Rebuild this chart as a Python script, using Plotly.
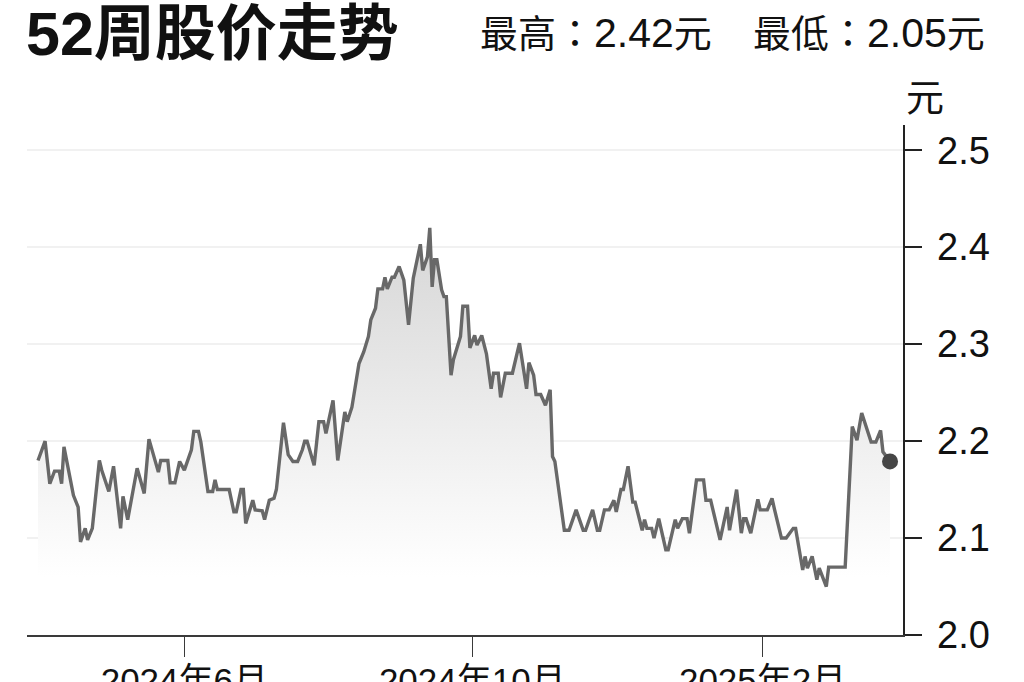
import plotly.graph_objects as go

# ---------------- data ----------------
dates = [
    "2024-03-31", "2024-04-03", "2024-04-05", "2024-04-07", "2024-04-09", "2024-04-10",
    "2024-04-11", "2024-04-14", "2024-04-15", "2024-04-17", "2024-04-18", "2024-04-20",
    "2024-04-21", "2024-04-23", "2024-04-26", "2024-04-27", "2024-04-30", "2024-05-02",
    "2024-05-05", "2024-05-06", "2024-05-08", "2024-05-12", "2024-05-15", "2024-05-17",
    "2024-05-21", "2024-05-22", "2024-05-25", "2024-05-26", "2024-05-28", "2024-05-30",
    "2024-06-01", "2024-06-04", "2024-06-05", "2024-06-07", "2024-06-08", "2024-06-11",
    "2024-06-13", "2024-06-14", "2024-06-15", "2024-06-20", "2024-06-22", "2024-06-23",
    "2024-06-25", "2024-06-26", "2024-06-27", "2024-06-30", "2024-07-01", "2024-07-04",
    "2024-07-05", "2024-07-07", "2024-07-09", "2024-07-10", "2024-07-13", "2024-07-15",
    "2024-07-17", "2024-07-19", "2024-07-21", "2024-07-22", "2024-07-23", "2024-07-26",
    "2024-07-28", "2024-07-30", "2024-07-31", "2024-08-03", "2024-08-05", "2024-08-08",
    "2024-08-09", "2024-08-11", "2024-08-14", "2024-08-16", "2024-08-18", "2024-08-19",
    "2024-08-21", "2024-08-22", "2024-08-24", "2024-08-25", "2024-08-26", "2024-08-28",
    "2024-08-29", "2024-08-31", "2024-09-02", "2024-09-04", "2024-09-06", "2024-09-09",
    "2024-09-10", "2024-09-12", "2024-09-13", "2024-09-14", "2024-09-15", "2024-09-16",
    "2024-09-18", "2024-09-19", "2024-09-20", "2024-09-22", "2024-09-23", "2024-09-26",
    "2024-09-27", "2024-09-29", "2024-09-30", "2024-10-02", "2024-10-03", "2024-10-05",
    "2024-10-07", "2024-10-09", "2024-10-10", "2024-10-12", "2024-10-13", "2024-10-15",
    "2024-10-18", "2024-10-21", "2024-10-22", "2024-10-24", "2024-10-25", "2024-10-27",
    "2024-10-28", "2024-10-30", "2024-11-01", "2024-11-03", "2024-11-04", "2024-11-05",
    "2024-11-09", "2024-11-11", "2024-11-14", "2024-11-17", "2024-11-18", "2024-11-21",
    "2024-11-23", "2024-11-24", "2024-11-26", "2024-11-28", "2024-11-30", "2024-12-01",
    "2024-12-03", "2024-12-04", "2024-12-06", "2024-12-08", "2024-12-09", "2024-12-12",
    "2024-12-13", "2024-12-14", "2024-12-16", "2024-12-17", "2024-12-19", "2024-12-22",
    "2024-12-23", "2024-12-26", "2024-12-27", "2024-12-29", "2024-12-31", "2025-01-01",
    "2025-01-04", "2025-01-07", "2025-01-08", "2025-01-10", "2025-01-14", "2025-01-17",
    "2025-01-18", "2025-01-21", "2025-01-23", "2025-01-24", "2025-01-25", "2025-01-27",
    "2025-01-30", "2025-01-31", "2025-02-03", "2025-02-05", "2025-02-06", "2025-02-09",
    "2025-02-11", "2025-02-14", "2025-02-15", "2025-02-18", "2025-02-19", "2025-02-20",
    "2025-02-22", "2025-02-24", "2025-02-25", "2025-02-28", "2025-03-01", "2025-03-08",
    "2025-03-11", "2025-03-13", "2025-03-15", "2025-03-19", "2025-03-21", "2025-03-23",
    "2025-03-24", "2025-03-27",
]
prices = [
    2.180, 2.200, 2.156, 2.169, 2.169, 2.156,
    2.194, 2.156, 2.144, 2.132, 2.096, 2.110,
    2.098, 2.110, 2.180, 2.170, 2.148, 2.174,
    2.110, 2.143, 2.119, 2.172, 2.146, 2.202,
    2.168, 2.180, 2.180, 2.157, 2.157, 2.179,
    2.170, 2.191, 2.210, 2.210, 2.199, 2.148,
    2.148, 2.160, 2.150, 2.150, 2.127, 2.127,
    2.150, 2.150, 2.115, 2.139, 2.129, 2.128,
    2.119, 2.139, 2.141, 2.150, 2.219, 2.186,
    2.179, 2.179, 2.191, 2.200, 2.200, 2.175,
    2.220, 2.220, 2.208, 2.242, 2.180, 2.230,
    2.220, 2.235, 2.280, 2.292, 2.308, 2.325,
    2.337, 2.357, 2.357, 2.369, 2.357, 2.369,
    2.369, 2.380, 2.366, 2.320, 2.368, 2.403,
    2.376, 2.390, 2.420, 2.359, 2.387, 2.387,
    2.356, 2.349, 2.349, 2.268, 2.284, 2.308,
    2.339, 2.339, 2.296, 2.309, 2.299, 2.309,
    2.290, 2.254, 2.270, 2.270, 2.245, 2.270,
    2.270, 2.301, 2.287, 2.254, 2.281, 2.268,
    2.248, 2.248, 2.237, 2.253, 2.184, 2.179,
    2.108, 2.108, 2.129, 2.108, 2.108, 2.129,
    2.108, 2.108, 2.129, 2.129, 2.139, 2.127,
    2.150, 2.150, 2.174, 2.137, 2.137, 2.108,
    2.119, 2.110, 2.110, 2.100, 2.120, 2.088,
    2.088, 2.119, 2.110, 2.120, 2.120, 2.105,
    2.160, 2.160, 2.139, 2.139, 2.098, 2.132,
    2.108, 2.150, 2.105, 2.120, 2.120, 2.105,
    2.140, 2.129, 2.129, 2.141, 2.130, 2.100,
    2.100, 2.110, 2.110, 2.067, 2.081, 2.069,
    2.081, 2.057, 2.069, 2.050, 2.070, 2.070,
    2.215, 2.201, 2.229, 2.199, 2.199, 2.211,
    2.189, 2.179,
]

title_text = "52周股价走势"
high_label, high_value = "最高：", "2.42"
low_label, low_value = "最低：", "2.05"
unit_text = "元"
x_tick_vals = ["2024-06-01", "2024-10-01", "2025-02-01"]
x_tick_text = ["2024年6月", "2024年10月", "2025年2月"]
y_tick_vals = [2.0, 2.1, 2.2, 2.3, 2.4, 2.5]
y_tick_text = ["2.0", "2.1", "2.2", "2.3", "2.4", "2.5"]
x_range = ["2024-03-26 08:00", "2025-04-01 12:00"]
y_range = [2.0, 2.526]

# ---------------- layout geometry ----------------
W, H = 1024, 682
ML, MR, MT, MB = 27, 121, 125, 47
PW = W - ML - MR
PH = H - MT - MB


def px(x):
    return (x - ML) / PW


def py(y):
    return (H - MB - y) / PH


LAT = "Liberation Sans, Noto Sans CJK SC, sans-serif"
HDR = "Liberation Sans, Noto Sans CJK TC, sans-serif"


def header(label, value):
    return label + '<span style="font-size:41px">' + value + "</span>" + unit_text


fig = go.Figure()
fig.add_trace(go.Scatter(
    x=dates, y=prices, mode="lines",
    line=dict(color="#686868", width=3.4),
    fill="tozeroy",
    fillgradient=dict(type="vertical",
                      colorscale=[[0, "rgba(255,255,255,1)"], [1, "rgba(214,214,214,1)"]],
                      start=2.06, stop=2.42),
    hoverinfo="skip", showlegend=False,
))
fig.add_trace(go.Scatter(
    x=[dates[-1]], y=[prices[-1]], mode="markers",
    marker=dict(size=16, color="#464646"),
    hoverinfo="skip", showlegend=False,
))

fig.update_layout(
    width=W, height=H,
    margin=dict(l=ML, r=MR, t=MT, b=MB, pad=0),
    paper_bgcolor="white", plot_bgcolor="white",
    showlegend=False,
    xaxis=dict(
        type="date", range=x_range, automargin=False,
        showgrid=False, zeroline=False,
        showline=True, linecolor="#3a3a3a", linewidth=1.5,
        ticks="outside", ticklen=20, tickwidth=1.5, tickcolor="#3a3a3a",
        tickvals=x_tick_vals, ticktext=x_tick_text,
        tickfont=dict(family=LAT, size=35, color="#111111"),
        ticklabelstandoff=-6,
    ),
    yaxis=dict(
        side="right", range=y_range, automargin=False,
        showgrid=True, gridcolor="#f1f1f1", gridwidth=2, zeroline=False,
        showline=True, linecolor="#222222", linewidth=1.5,
        ticks="outside", ticklen=17, tickwidth=1.5, tickcolor="#222222",
        tickvals=y_tick_vals, ticktext=y_tick_text,
        tickfont=dict(family=LAT, size=38, color="#111111"),
        ticklabelstandoff=8,
    ),
    annotations=[
        dict(text="<b>" + title_text + "</b>", x=px(24), y=py(34), xref="paper", yref="paper",
             xanchor="left", yanchor="middle", showarrow=False,
             font=dict(family=LAT, size=61, color="#111111")),
        dict(text=header(high_label, high_value), x=px(478), y=py(33), xref="paper", yref="paper",
             xanchor="left", yanchor="middle", showarrow=False,
             font=dict(family=HDR, size=38, color="#111111")),
        dict(text=header(low_label, low_value), x=px(751), y=py(33), xref="paper", yref="paper",
             xanchor="left", yanchor="middle", showarrow=False,
             font=dict(family=HDR, size=38, color="#111111")),
        dict(text=unit_text, x=px(925), y=py(98), xref="paper", yref="paper",
             xanchor="center", yanchor="middle", showarrow=False,
             font=dict(family=HDR, size=38, color="#111111")),
    ],
)

fig.write_html(
    "out.html",
    config={"displayModeBar": False, "staticPlot": True},
    post_script="document.body.style.margin='0';document.body.style.overflow='hidden';",
)
